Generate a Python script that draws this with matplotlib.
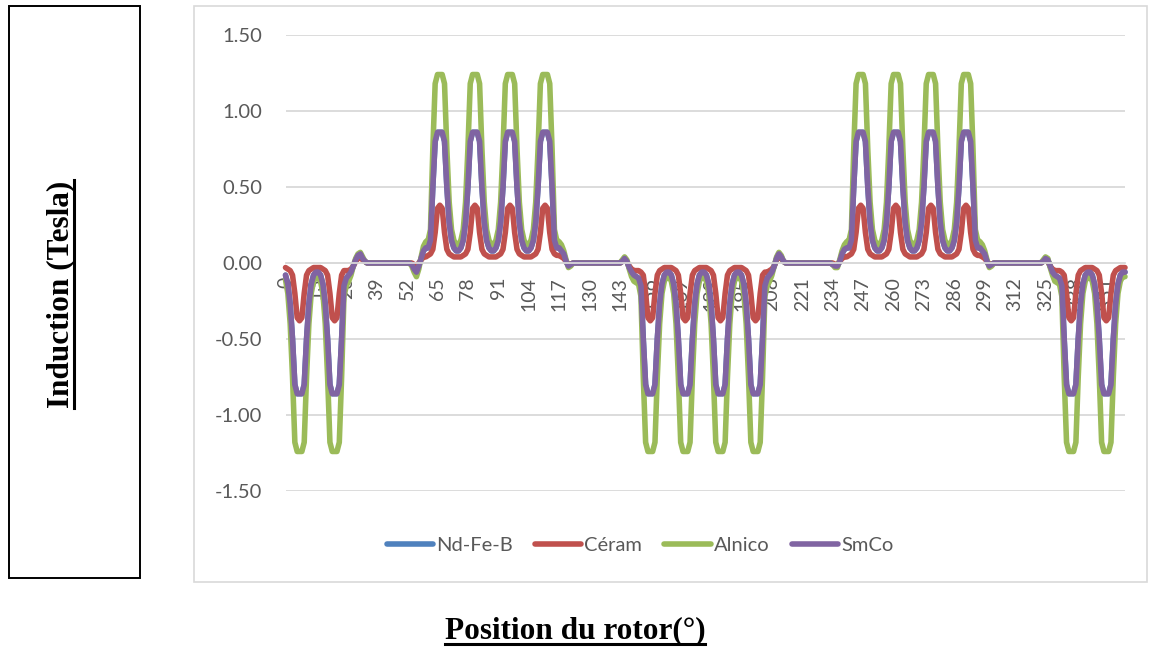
import matplotlib
matplotlib.use("Agg")
import matplotlib.pyplot as plt
from matplotlib.lines import Line2D
from matplotlib.patches import Rectangle

# rotor position, one sample per degree (category axis in the original)
positions = list(range(360))
label_step = 13

# induction (Tesla)
ceram = [
    -0.03, -0.04, -0.05, -0.08, -0.20, -0.36, -0.38, -0.36, -0.20, -0.08,
    -0.05, -0.04, -0.03, -0.03, -0.03, -0.03, -0.04, -0.05, -0.08, -0.20,
    -0.36, -0.38, -0.36, -0.20, -0.08, -0.05, -0.05, -0.05, -0.04, -0.02,
    0.01, 0.03, 0.04, 0.02, 0.01, 0.00, 0.00, 0.00, 0.00, 0.00,
    0.00, 0.00, 0.00, 0.00, 0.00, 0.00, 0.00, 0.00, 0.00, 0.00,
    0.00, 0.00, 0.00, 0.00, 0.00, -0.01, -0.02, 0.00, 0.02, 0.04,
    0.04, 0.05, 0.06, 0.09, 0.20, 0.36, 0.38, 0.36, 0.20, 0.09,
    0.06, 0.05, 0.04, 0.04, 0.04, 0.04, 0.05, 0.06, 0.09, 0.20,
    0.36, 0.38, 0.36, 0.20, 0.09, 0.06, 0.05, 0.04, 0.04, 0.04,
    0.04, 0.05, 0.06, 0.09, 0.20, 0.36, 0.38, 0.36, 0.20, 0.09,
    0.06, 0.05, 0.04, 0.04, 0.04, 0.04, 0.05, 0.06, 0.09, 0.20,
    0.36, 0.38, 0.36, 0.20, 0.09, 0.06, 0.05, 0.05, 0.04, 0.03,
    0.01, -0.01, -0.01, 0.00, 0.00, 0.00, 0.00, 0.00, 0.00, 0.00,
    0.00, 0.00, 0.00, 0.00, 0.00, 0.00, 0.00, 0.00, 0.00, 0.00,
    0.00, 0.00, 0.00, 0.00, 0.01, 0.02, 0.01, -0.02, -0.04, -0.05,
    -0.05, -0.05, -0.06, -0.08, -0.20, -0.36, -0.38, -0.36, -0.20, -0.08,
    -0.05, -0.04, -0.03, -0.03, -0.03, -0.03, -0.04, -0.05, -0.08, -0.20,
    -0.36, -0.38, -0.36, -0.20, -0.08, -0.05, -0.04, -0.03, -0.03, -0.03,
    -0.03, -0.04, -0.05, -0.08, -0.20, -0.36, -0.38, -0.36, -0.20, -0.08,
    -0.05, -0.04, -0.03, -0.03, -0.03, -0.03, -0.04, -0.05, -0.08, -0.20,
    -0.36, -0.38, -0.36, -0.20, -0.08, -0.06, -0.06, -0.05, -0.04, -0.02,
    0.02, 0.04, 0.03, 0.01, 0.00, 0.00, 0.00, 0.00, 0.00, 0.00,
    0.00, 0.00, 0.00, 0.00, 0.00, 0.00, 0.00, 0.00, 0.00, 0.00,
    0.00, 0.00, 0.00, 0.00, 0.00, -0.01, -0.01, 0.01, 0.03, 0.04,
    0.04, 0.05, 0.06, 0.09, 0.20, 0.36, 0.38, 0.36, 0.20, 0.09,
    0.06, 0.05, 0.04, 0.04, 0.04, 0.04, 0.05, 0.06, 0.09, 0.20,
    0.36, 0.38, 0.36, 0.20, 0.09, 0.06, 0.05, 0.04, 0.04, 0.04,
    0.04, 0.05, 0.06, 0.09, 0.20, 0.36, 0.38, 0.36, 0.20, 0.09,
    0.06, 0.05, 0.04, 0.04, 0.04, 0.04, 0.05, 0.06, 0.09, 0.20,
    0.36, 0.38, 0.36, 0.20, 0.09, 0.06, 0.05, 0.05, 0.04, 0.03,
    0.01, -0.01, -0.01, 0.00, 0.00, 0.00, 0.00, 0.00, 0.00, 0.00,
    0.00, 0.00, 0.00, 0.00, 0.00, 0.00, 0.00, 0.00, 0.00, 0.00,
    0.00, 0.00, 0.00, 0.00, 0.01, 0.02, 0.01, -0.02, -0.04, -0.05,
    -0.05, -0.05, -0.06, -0.08, -0.20, -0.36, -0.38, -0.36, -0.20, -0.08,
    -0.05, -0.04, -0.03, -0.03, -0.03, -0.03, -0.04, -0.05, -0.08, -0.20,
    -0.36, -0.38, -0.36, -0.20, -0.08, -0.05, -0.04, -0.03, -0.03, -0.03,
]

alnico = [
    -0.11, -0.20, -0.40, -0.75, -1.18, -1.24, -1.24, -1.24, -1.18, -0.75,
    -0.40, -0.20, -0.12, -0.09, -0.09, -0.12, -0.20, -0.40, -0.75, -1.18,
    -1.24, -1.24, -1.24, -1.18, -0.75, -0.22, -0.15, -0.12, -0.08, -0.02,
    0.03, 0.06, 0.07, 0.04, 0.01, 0.00, 0.00, 0.00, 0.00, 0.00,
    0.00, 0.00, 0.00, 0.00, 0.00, 0.00, 0.00, 0.00, 0.00, 0.00,
    0.00, 0.00, 0.00, 0.00, -0.02, -0.06, -0.09, -0.04, 0.04, 0.11,
    0.14, 0.15, 0.22, 0.75, 1.18, 1.24, 1.24, 1.24, 1.18, 0.75,
    0.40, 0.22, 0.15, 0.12, 0.12, 0.15, 0.22, 0.40, 0.75, 1.18,
    1.24, 1.24, 1.24, 1.18, 0.75, 0.40, 0.22, 0.15, 0.12, 0.12,
    0.15, 0.22, 0.40, 0.75, 1.18, 1.24, 1.24, 1.24, 1.18, 0.75,
    0.40, 0.22, 0.15, 0.12, 0.12, 0.15, 0.22, 0.40, 0.75, 1.18,
    1.24, 1.24, 1.24, 1.18, 0.75, 0.22, 0.15, 0.14, 0.12, 0.08,
    0.02, -0.03, -0.02, 0.00, 0.00, 0.00, 0.00, 0.00, 0.00, 0.00,
    0.00, 0.00, 0.00, 0.00, 0.00, 0.00, 0.00, 0.00, 0.00, 0.00,
    0.00, 0.00, 0.00, 0.00, 0.02, 0.04, 0.02, -0.04, -0.09, -0.12,
    -0.13, -0.14, -0.22, -0.75, -1.18, -1.24, -1.24, -1.24, -1.18, -0.75,
    -0.40, -0.20, -0.12, -0.09, -0.09, -0.12, -0.20, -0.40, -0.75, -1.18,
    -1.24, -1.24, -1.24, -1.18, -0.75, -0.40, -0.20, -0.12, -0.09, -0.09,
    -0.12, -0.20, -0.40, -0.75, -1.18, -1.24, -1.24, -1.24, -1.18, -0.75,
    -0.40, -0.20, -0.12, -0.09, -0.09, -0.12, -0.20, -0.40, -0.75, -1.18,
    -1.24, -1.24, -1.24, -1.18, -0.75, -0.22, -0.15, -0.12, -0.08, -0.02,
    0.04, 0.07, 0.05, 0.01, 0.00, 0.00, 0.00, 0.00, 0.00, 0.00,
    0.00, 0.00, 0.00, 0.00, 0.00, 0.00, 0.00, 0.00, 0.00, 0.00,
    0.00, 0.00, 0.00, 0.00, -0.01, -0.03, -0.03, 0.02, 0.08, 0.12,
    0.14, 0.15, 0.22, 0.75, 1.18, 1.24, 1.24, 1.24, 1.18, 0.75,
    0.40, 0.22, 0.15, 0.12, 0.12, 0.15, 0.22, 0.40, 0.75, 1.18,
    1.24, 1.24, 1.24, 1.18, 0.75, 0.40, 0.22, 0.15, 0.12, 0.12,
    0.15, 0.22, 0.40, 0.75, 1.18, 1.24, 1.24, 1.24, 1.18, 0.75,
    0.40, 0.22, 0.15, 0.12, 0.12, 0.15, 0.22, 0.40, 0.75, 1.18,
    1.24, 1.24, 1.24, 1.18, 0.75, 0.22, 0.15, 0.14, 0.12, 0.08,
    0.02, -0.03, -0.02, 0.00, 0.00, 0.00, 0.00, 0.00, 0.00, 0.00,
    0.00, 0.00, 0.00, 0.00, 0.00, 0.00, 0.00, 0.00, 0.00, 0.00,
    0.00, 0.00, 0.00, 0.00, 0.02, 0.04, 0.03, -0.03, -0.08, -0.12,
    -0.13, -0.14, -0.22, -0.75, -1.18, -1.24, -1.24, -1.24, -1.18, -0.75,
    -0.40, -0.20, -0.12, -0.09, -0.09, -0.12, -0.20, -0.40, -0.75, -1.18,
    -1.24, -1.24, -1.24, -1.18, -0.75, -0.40, -0.20, -0.12, -0.09, -0.09,
]

smco = [
    -0.08, -0.14, -0.27, -0.50, -0.80, -0.86, -0.86, -0.86, -0.80, -0.50,
    -0.27, -0.14, -0.08, -0.06, -0.06, -0.08, -0.14, -0.27, -0.50, -0.80,
    -0.86, -0.86, -0.86, -0.80, -0.50, -0.15, -0.10, -0.08, -0.06, -0.02,
    0.02, 0.05, 0.06, 0.03, 0.01, 0.00, 0.00, 0.00, 0.00, 0.00,
    0.00, 0.00, 0.00, 0.00, 0.00, 0.00, 0.00, 0.00, 0.00, 0.00,
    0.00, 0.00, 0.00, 0.00, -0.01, -0.04, -0.06, -0.02, 0.03, 0.08,
    0.10, 0.10, 0.15, 0.50, 0.80, 0.86, 0.86, 0.86, 0.80, 0.50,
    0.27, 0.15, 0.10, 0.08, 0.08, 0.10, 0.15, 0.27, 0.50, 0.80,
    0.86, 0.86, 0.86, 0.80, 0.50, 0.27, 0.15, 0.10, 0.08, 0.08,
    0.10, 0.15, 0.27, 0.50, 0.80, 0.86, 0.86, 0.86, 0.80, 0.50,
    0.27, 0.15, 0.10, 0.08, 0.08, 0.10, 0.15, 0.27, 0.50, 0.80,
    0.86, 0.86, 0.86, 0.80, 0.50, 0.15, 0.10, 0.10, 0.08, 0.06,
    0.01, -0.02, -0.01, 0.00, 0.00, 0.00, 0.00, 0.00, 0.00, 0.00,
    0.00, 0.00, 0.00, 0.00, 0.00, 0.00, 0.00, 0.00, 0.00, 0.00,
    0.00, 0.00, 0.00, 0.00, 0.01, 0.03, 0.01, -0.03, -0.06, -0.08,
    -0.09, -0.10, -0.15, -0.50, -0.80, -0.86, -0.86, -0.86, -0.80, -0.50,
    -0.27, -0.14, -0.08, -0.06, -0.06, -0.08, -0.14, -0.27, -0.50, -0.80,
    -0.86, -0.86, -0.86, -0.80, -0.50, -0.27, -0.14, -0.08, -0.06, -0.06,
    -0.08, -0.14, -0.27, -0.50, -0.80, -0.86, -0.86, -0.86, -0.80, -0.50,
    -0.27, -0.14, -0.08, -0.06, -0.06, -0.08, -0.14, -0.27, -0.50, -0.80,
    -0.86, -0.86, -0.86, -0.80, -0.50, -0.15, -0.10, -0.08, -0.06, -0.02,
    0.03, 0.06, 0.04, 0.01, 0.00, 0.00, 0.00, 0.00, 0.00, 0.00,
    0.00, 0.00, 0.00, 0.00, 0.00, 0.00, 0.00, 0.00, 0.00, 0.00,
    0.00, 0.00, 0.00, 0.00, -0.01, -0.02, -0.02, 0.01, 0.06, 0.09,
    0.10, 0.10, 0.15, 0.50, 0.80, 0.86, 0.86, 0.86, 0.80, 0.50,
    0.27, 0.15, 0.10, 0.08, 0.08, 0.10, 0.15, 0.27, 0.50, 0.80,
    0.86, 0.86, 0.86, 0.80, 0.50, 0.27, 0.15, 0.10, 0.08, 0.08,
    0.10, 0.15, 0.27, 0.50, 0.80, 0.86, 0.86, 0.86, 0.80, 0.50,
    0.27, 0.15, 0.10, 0.08, 0.08, 0.10, 0.15, 0.27, 0.50, 0.80,
    0.86, 0.86, 0.86, 0.80, 0.50, 0.15, 0.10, 0.10, 0.08, 0.06,
    0.01, -0.02, -0.01, 0.00, 0.00, 0.00, 0.00, 0.00, 0.00, 0.00,
    0.00, 0.00, 0.00, 0.00, 0.00, 0.00, 0.00, 0.00, 0.00, 0.00,
    0.00, 0.00, 0.00, 0.00, 0.01, 0.03, 0.02, -0.02, -0.06, -0.08,
    -0.09, -0.10, -0.15, -0.50, -0.80, -0.86, -0.86, -0.86, -0.80, -0.50,
    -0.27, -0.14, -0.08, -0.06, -0.06, -0.08, -0.14, -0.27, -0.50, -0.80,
    -0.86, -0.86, -0.86, -0.80, -0.50, -0.27, -0.14, -0.08, -0.06, -0.06,
]

# Nd-Fe-B is not visible anywhere: it lies exactly under the SmCo curve
nd_fe_b = list(smco)

series = [
    ("Nd-Fe-B", nd_fe_b, "#4F81BD"),
    ("Céram", ceram, "#C0504D"),
    ("Alnico", alnico, "#9BBB59"),
    ("SmCo", smco, "#8064A2"),
]

W, H = 1150, 648
fig = plt.figure(figsize=(W / 100, H / 100), dpi=100)

# boxes around the y title and around the chart
fig.add_artist(Rectangle((9 / W, 1 - 578 / H), 131 / W, 572 / H,
                         transform=fig.transFigure, fill=False,
                         edgecolor="black", lw=1.4))
fig.add_artist(Rectangle((194 / W, 1 - 582 / H), 953 / W, 576 / H,
                         transform=fig.transFigure, fill=False,
                         edgecolor="#d9d9d9", lw=1.2))

ax = fig.add_axes([285.5 / W, 1 - 491 / H, (1125 - 285.5) / W, 456 / H])

for name, vals, col in series:
    ax.plot(positions, vals, color=col, lw=4, label=name,
            solid_joinstyle="round", solid_capstyle="round", clip_on=False)

ax.set_xlim(0, 359)
ax.set_ylim(-1.5, 1.5)
yticks = [1.5, 1.0, 0.5, 0.0, -0.5, -1.0, -1.5]
ax.set_yticks(yticks)
ax.set_yticklabels([f"{v:.2f}" for v in yticks])
ax.set_xticks(positions[::label_step])
ax.set_xticklabels([str(p) for p in positions[::label_step]])

ax.grid(axis="y", color="#d9d9d9", lw=1.3)
ax.set_axisbelow(True)
for s in ["top", "right", "left"]:
    ax.spines[s].set_visible(False)
ax.spines["bottom"].set_position(("data", 0))
ax.spines["bottom"].set_color("#d9d9d9")
ax.spines["bottom"].set_linewidth(1.3)
ax.tick_params(axis="y", length=0, pad=17, labelsize=14.5, labelcolor="#595959")
ax.tick_params(axis="x", length=0, pad=10, labelsize=14, labelcolor="#595959",
               labelrotation=90)
for lab in ax.get_xticklabels() + ax.get_yticklabels():
    lab.set_fontfamily("Lato")

leg = fig.legend(loc="center", bbox_to_anchor=(640 / W, 1 - 545 / H), ncol=4,
                 frameon=False, handlelength=2.3, handletextpad=0.15,
                 columnspacing=1.1, prop={"family": "Lato", "size": 14.5})
for t in leg.get_texts():
    t.set_color("#595959")
for h in leg.get_lines():
    h.set_linewidth(4)
    h.set_solid_capstyle("round")

ylab = fig.text(61 / W, 1 - 294 / H, "Induction (Tesla)", rotation=90,
                ha="center", va="center", family="Liberation Serif",
                weight="bold", size=22.5)
xlab = fig.text(575 / W, 1 - 631 / H, "Position du rotor(°)",
                ha="center", va="center", family="Liberation Serif",
                weight="bold", size=22.5)

# underline both titles
fig.canvas.draw()
r = fig.canvas.get_renderer()
inv = fig.transFigure.inverted()
bb = xlab.get_window_extent(r)
(x0, y0), (x1, _) = inv.transform([(bb.x0, bb.y0 + 2), (bb.x1, bb.y0 + 2)])
fig.add_artist(Line2D([x0, x1], [y0, y0], color="black", lw=2.2,
                      transform=fig.transFigure))
bb = ylab.get_window_extent(r)
(x0, y0), (_, y1) = inv.transform([(bb.x1 - 2, bb.y0), (bb.x1 - 2, bb.y1)])
fig.add_artist(Line2D([x0, x0], [y0, y1], color="black", lw=2.2,
                      transform=fig.transFigure))

fig.savefig("out.png", dpi=100)
